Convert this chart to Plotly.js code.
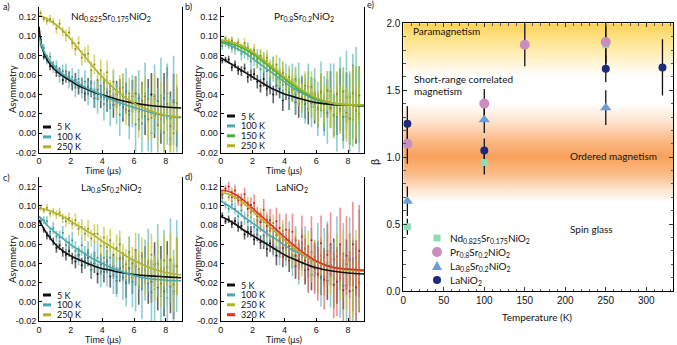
<!DOCTYPE html>
<html>
<head>
<meta charset="utf-8">
<script src="https://cdn.plot.ly/plotly-3.0.1.min.js"></script>
<style>html,body{margin:0;padding:0;background:#fff}</style>
</head>
<body>
<div id="fig" style="width:677px;height:345px"></div>
<script>
// time bins (us), shared by every muSR spectrum
let tData = [0.1,0.3,0.5,0.7,0.9,1.1,1.3,1.5,1.7,1.9,2.1,2.3,2.5,2.7,2.9,3.1,3.3,3.5,3.7,3.9,4.1,4.3,4.5,4.7,4.9,5.1,5.3,5.5,5.7,5.9,6.1,6.3,6.5,6.7,6.9,7.1,7.3,7.5,7.7,7.9,8.1,8.3,8.5,8.7];
let errLow = [0.003,0.003,0.004,0.004,0.004,0.005,0.005,0.005,0.006,0.006,0.006,0.007,0.007,0.008,0.008,0.009,0.009,0.010,0.010,0.011,0.011,0.012,0.012,0.013,0.014,0.014,0.015,0.016,0.016,0.017,0.018,0.019,0.019,0.020,0.021,0.022,0.023,0.024,0.025,0.026,0.027,0.028,0.029,0.030];
let errHigh = [0.004,0.004,0.005,0.005,0.006,0.006,0.007,0.007,0.008,0.008,0.009,0.010,0.010,0.011,0.012,0.012,0.013,0.014,0.015,0.016,0.017,0.018,0.019,0.020,0.021,0.022,0.023,0.024,0.025,0.027,0.028,0.029,0.031,0.032,0.033,0.035,0.036,0.038,0.039,0.041,0.042,0.044,0.046,0.048];

// a) Nd0.825Sr0.175NiO2
let asymA5 = [0.097,0.079,0.077,0.069,0.070,0.063,0.063,0.055,0.058,0.058,0.050,0.055,0.047,0.049,0.041,0.048,0.046,0.036,0.045,0.037,0.045,0.034,0.039,0.029,0.040,0.042,0.027,0.036,0.023,0.038,0.041,0.022,0.034,0.018,0.035,0.040,0.018,0.033,0.014,0.036,0.041,0.015,0.032,0.016];
let asymA100 = [0.092,0.088,0.076,0.079,0.068,0.069,0.059,0.064,0.064,0.054,0.058,0.047,0.056,0.047,0.053,0.041,0.052,0.040,0.035,0.049,0.030,0.042,0.026,0.045,0.030,0.019,0.038,0.043,0.019,0.033,0.009,0.036,0.010,0.041,0.014,0.000,0.035,0.009,0.039,0.000,0.030,-0.006,0.034,0.002];
let asymA250 = [0.124,0.118,0.116,0.118,0.115,0.108,0.113,0.105,0.101,0.104,0.093,0.087,0.093,0.078,0.081,0.082,0.065,0.071,0.055,0.065,0.052,0.063,0.043,0.053,0.033,0.046,0.047,0.024,0.041,0.027,0.041,0.014,0.033,0.038,0.014,0.016,0.038,0.008,0.028,0.001,0.030,0.007,0.000,0.031];
// b) Pr0.8Sr0.2NiO2
let asymB5 = [0.075,0.076,0.076,0.068,0.071,0.065,0.064,0.067,0.058,0.060,0.061,0.053,0.049,0.056,0.046,0.049,0.040,0.049,0.046,0.034,0.045,0.036,0.045,0.032,0.030,0.044,0.030,0.025,0.042,0.027,0.024,0.042,0.021,0.036,0.043,0.019,0.021,0.043,0.017,0.037,0.015,0.043,0.018,0.039];
let asymB100 = [0.090,0.093,0.093,0.088,0.087,0.090,0.082,0.084,0.083,0.074,0.078,0.077,0.066,0.073,0.064,0.058,0.066,0.056,0.063,0.050,0.055,0.042,0.053,0.040,0.052,0.038,0.033,0.048,0.031,0.040,0.025,0.045,0.028,0.021,0.039,0.037,0.017,0.041,0.023,0.044,0.019,0.038,0.043,0.017];
let asymB150 = [0.093,0.096,0.091,0.095,0.090,0.091,0.085,0.089,0.088,0.081,0.083,0.074,0.079,0.072,0.075,0.065,0.070,0.061,0.056,0.063,0.050,0.055,0.044,0.054,0.043,0.035,0.046,0.048,0.032,0.040,0.024,0.041,0.024,0.044,0.026,0.017,0.040,0.023,0.043,0.017,0.037,0.014,0.040,0.020];
let asymB250 = [0.094,0.098,0.094,0.096,0.090,0.093,0.088,0.093,0.086,0.082,0.086,0.076,0.080,0.074,0.078,0.067,0.065,0.071,0.058,0.062,0.051,0.058,0.050,0.056,0.042,0.037,0.049,0.038,0.048,0.030,0.026,0.043,0.030,0.044,0.026,0.019,0.041,0.025,0.043,0.021,0.015,0.041,0.023,0.039];
// c) La0.8Sr0.2NiO2
let asymC5 = [0.084,0.075,0.069,0.068,0.063,0.056,0.059,0.052,0.049,0.053,0.045,0.042,0.049,0.038,0.043,0.046,0.033,0.040,0.029,0.039,0.031,0.042,0.027,0.037,0.022,0.035,0.037,0.020,0.035,0.025,0.037,0.016,0.033,0.038,0.019,0.021,0.039,0.015,0.033,0.011,0.036,0.016,0.011,0.037];
let asymC100 = [0.084,0.085,0.084,0.073,0.077,0.068,0.067,0.072,0.059,0.062,0.064,0.053,0.048,0.059,0.046,0.051,0.038,0.051,0.046,0.031,0.046,0.034,0.046,0.028,0.026,0.045,0.025,0.019,0.043,0.021,0.018,0.042,0.013,0.033,0.043,0.010,0.013,0.043,0.006,0.034,0.004,0.043,0.008,0.037];
let asymC250 = [0.098,0.095,0.098,0.092,0.094,0.091,0.093,0.087,0.084,0.087,0.081,0.085,0.076,0.078,0.071,0.076,0.066,0.071,0.071,0.058,0.067,0.057,0.064,0.049,0.056,0.060,0.045,0.039,0.052,0.040,0.054,0.034,0.048,0.026,0.041,0.049,0.024,0.040,0.019,0.043,0.022,0.044,0.018,0.037];
// d) LaNiO2
let asymD5 = [0.090,0.084,0.086,0.081,0.084,0.078,0.079,0.070,0.073,0.073,0.065,0.070,0.062,0.063,0.055,0.061,0.058,0.048,0.056,0.047,0.054,0.043,0.047,0.037,0.047,0.049,0.033,0.041,0.028,0.043,0.045,0.026,0.037,0.022,0.038,0.044,0.021,0.036,0.017,0.039,0.044,0.018,0.035,0.019];
let asymD100 = [0.108,0.101,0.097,0.101,0.097,0.089,0.095,0.087,0.083,0.088,0.078,0.075,0.083,0.069,0.074,0.077,0.060,0.069,0.053,0.065,0.054,0.066,0.046,0.059,0.039,0.054,0.056,0.033,0.052,0.038,0.054,0.024,0.046,0.052,0.027,0.028,0.053,0.021,0.043,0.014,0.046,0.021,0.015,0.048];
let asymD250 = [0.112,0.116,0.109,0.115,0.108,0.108,0.101,0.105,0.103,0.093,0.096,0.085,0.091,0.083,0.086,0.074,0.082,0.069,0.064,0.074,0.056,0.064,0.049,0.064,0.049,0.040,0.055,0.058,0.036,0.047,0.027,0.048,0.026,0.053,0.029,0.017,0.047,0.025,0.050,0.017,0.043,0.012,0.046,0.020];
let asymD320 = [0.112,0.118,0.120,0.109,0.116,0.106,0.106,0.112,0.097,0.101,0.103,0.089,0.083,0.096,0.079,0.085,0.067,0.084,0.077,0.056,0.075,0.058,0.073,0.048,0.044,0.068,0.043,0.034,0.064,0.035,0.029,0.061,0.023,0.049,0.060,0.018,0.021,0.060,0.012,0.048,0.011,0.060,0.015,0.053];

// fitted relaxation curves
let fitT = [0,0.2,0.5,1,1.5,2,2.5,3,3.5,4,4.5,5,6,7,8,9];
let fitA5 = [0.110,0.088,0.076,0.0655,0.059,0.054,0.049,0.0455,0.042,0.0395,0.037,0.0345,0.031,0.0285,0.027,0.026];
let fitA100 = [0.100,0.089,0.079,0.0685,0.061,0.056,0.051,0.0465,0.043,0.039,0.035,0.032,0.0265,0.0215,0.018,0.016];
let fitA250 = [0.121,0.1205,0.118,0.113,0.106,0.097,0.087,0.077,0.067,0.058,0.050,0.0425,0.031,0.0235,0.0185,0.017];
let fitB5 = [0.078,0.076,0.073,0.068,0.063,0.058,0.053,0.048,0.044,0.0405,0.038,0.0355,0.0315,0.0295,0.029,0.028];
let fitB100 = [0.093,0.093,0.091,0.0875,0.083,0.077,0.071,0.065,0.059,0.053,0.047,0.0425,0.0345,0.031,0.029,0.029];
let fitB150 = [0.094,0.094,0.093,0.0905,0.087,0.082,0.076,0.0695,0.063,0.056,0.050,0.044,0.0355,0.031,0.029,0.029];
let fitB250 = [0.096,0.096,0.095,0.0925,0.089,0.084,0.078,0.0715,0.065,0.058,0.052,0.046,0.0365,0.031,0.0295,0.029];
let fitC5 = [0.085,0.079,0.071,0.0605,0.053,0.048,0.044,0.0405,0.037,0.0345,0.033,0.031,0.0285,0.027,0.026,0.025];
let fitC100 = [0.089,0.086,0.080,0.0725,0.066,0.0595,0.054,0.049,0.044,0.040,0.036,0.033,0.0275,0.024,0.0225,0.022];
let fitC250 = [0.097,0.097,0.096,0.0925,0.089,0.084,0.079,0.074,0.069,0.063,0.058,0.053,0.043,0.0355,0.0305,0.028];
let fitD5 = [0.089,0.0875,0.085,0.080,0.074,0.069,0.064,0.059,0.054,0.049,0.045,0.0415,0.0355,0.032,0.030,0.029];
let fitD100 = [0.105,0.103,0.100,0.0945,0.088,0.082,0.076,0.070,0.065,0.059,0.054,0.050,0.0415,0.0365,0.0335,0.032];
let fitD250 = [0.113,0.113,0.112,0.108,0.102,0.0945,0.087,0.0795,0.072,0.0645,0.057,0.051,0.0415,0.0355,0.033,0.032];
let fitD320 = [0.116,0.116,0.115,0.111,0.105,0.0975,0.090,0.0825,0.075,0.0675,0.060,0.0535,0.0425,0.036,0.034,0.033];

let asymTicks = [-0.02,0,0.02,0.04,0.06,0.08,0.10,0.12];
let asymTickText = ['-0.02','0.00','0.02','0.04','0.06','0.08','0.10','0.12'];
let timeTicks = [0,2,4,6,8];

// e) stretching exponent vs temperature
let tempNd = [5,100,250], betaNd = [0.48,0.96,1.84], errNd = [0.06,0.09,0.14];
let tempPr = [5,100,150,250], betaPr = [1.10,1.40,1.84,1.86], errPr = [0.15,0.11,0.16,0.16];
let tempLa = [5,100,250], betaLa = [0.67,1.28,1.37], errLa = [0.11,0.10,0.13];
let tempLN = [5,100,250,320], betaLN = [1.25,1.05,1.66,1.67], errLN = [0.13,0.09,0.10,0.21];

const W = 677, H = 345;
const fx = p => p / W;
const fy = p => 1 - p / H;

const pal = {
  k:     {bar:'rgba(40,40,40,0.72)',   dot:'#111',    line:'#111'},
  teal:  {bar:'rgba(100,186,190,0.72)',dot:'#3a8e92', line:'#49a9ae'},
  green: {bar:'rgba(105,198,75,0.72)', dot:'#3a8a2a', line:'#43b236'},
  olive: {bar:'rgba(198,196,55,0.72)', dot:'#8c8a1a', line:'#b4b22a'},
  red:   {bar:'rgba(232,85,85,0.65)',  dot:'#b02020', line:'#e0302a'}
};

let panels = [
  {x:'x', y:'y', xd:[39,181.5], yd:[7.3,152.5], tag:'a)', tagPos:[1,6],
   title:'Nd<sub>0.825</sub>Sr<sub>0.175</sub>NiO<sub>2</sub>', titlePos:[111,17],
   leg:[43,127], xt:[103,170], yt:[12,89],
   series:[
     {label:'5 K', y:asymA5, err:errLow, fit:fitA5, c:'k'},
     {label:'100 K', y:asymA100, err:errHigh, fit:fitA100, c:'teal'},
     {label:'250 K', y:asymA250, err:errLow, fit:fitA250, c:'olive'}]},
  {x:'x2', y:'y2', xd:[220.7,364], yd:[7.3,152.5], tag:'b)', tagPos:[183,6],
   title:'Pr<sub>0.8</sub>Sr<sub>0.2</sub>NiO<sub>2</sub>', titlePos:[304,17],
   leg:[227,116], xt:[284,170], yt:[197,89],
   series:[
     {label:'5 K', y:asymB5, err:errLow, fit:fitB5, c:'k'},
     {label:'100 K', y:asymB100, err:errHigh, fit:fitB100, c:'teal'},
     {label:'150 K', y:asymB150, err:errLow, fit:fitB150, c:'green'},
     {label:'250 K', y:asymB250, err:errLow, fit:fitB250, c:'olive'}]},
  {x:'x3', y:'y3', xd:[39,181.5], yd:[177,321], tag:'c)', tagPos:[1,177],
   title:'La<sub>0.8</sub>Sr<sub>0.2</sub>NiO<sub>2</sub>', titlePos:[111,187],
   leg:[43,295], xt:[103,339.5], yt:[12,259],
   series:[
     {label:'5 K', y:asymC5, err:errLow, fit:fitC5, c:'k'},
     {label:'100 K', y:asymC100, err:errHigh, fit:fitC100, c:'teal'},
     {label:'250 K', y:asymC250, err:errLow, fit:fitC250, c:'olive'}]},
  {x:'x4', y:'y4', xd:[220.7,364], yd:[177,321], tag:'d)', tagPos:[183,176],
   title:'LaNiO<sub>2</sub>', titlePos:[292,187],
   leg:[227,285], xt:[284,339.5], yt:[197,259],
   series:[
     {label:'5 K', y:asymD5, err:errLow, fit:fitD5, c:'k'},
     {label:'100 K', y:asymD100, err:errHigh, fit:fitD100, c:'teal'},
     {label:'250 K', y:asymD250, err:errLow, fit:fitD250, c:'olive'},
     {label:'320 K', y:asymD320, err:errHigh, fit:fitD320, c:'red'}]}
];

let betaSeries = [
  {name:'Nd<sub>0.825</sub>Sr<sub>0.175</sub>NiO<sub>2</sub>', x:tempNd, y:betaNd, e:errNd, sym:'square', size:7, color:'#8fdcb5'},
  {name:'Pr<sub>0.8</sub>Sr<sub>0.2</sub>NiO<sub>2</sub>', x:tempPr, y:betaPr, e:errPr, sym:'circle', size:10, color:'#c98dc0'},
  {name:'La<sub>0.8</sub>Sr<sub>0.2</sub>NiO<sub>2</sub>', x:tempLa, y:betaLa, e:errLa, sym:'triangle-up', size:10, color:'#6d9dd4'},
  {name:'LaNiO<sub>2</sub>', x:tempLN, y:betaLN, e:errLN, sym:'circle', size:8, color:'#1c2b7a'}
];

const tickFont = {family:'Liberation Sans, Arial, sans-serif', size:9, color:'#111'};
const txtFont = {family:'Lato, sans-serif', size:10, color:'#111'};

let traces = [];
let layout = {
  width:W, height:H, margin:{l:0,r:0,t:0,b:0},
  paper_bgcolor:'#fff', plot_bgcolor:'rgba(0,0,0,0)',
  showlegend:false, shapes:[], annotations:[]
};

function note(x, y, text, extra) {
  layout.annotations.push(Object.assign({xref:'paper', yref:'paper', x:fx(x), y:fy(y),
    text:text, showarrow:false, font:txtFont, xanchor:'center', yanchor:'middle'}, extra || {}));
}

panels.forEach((p, i) => {
  let n = i === 0 ? '' : String(i + 1);
  layout['xaxis' + n] = {domain:[fx(p.xd[0]), fx(p.xd[1])], range:[0,9], anchor:p.y,
    tickvals:timeTicks, ticks:'inside', ticklen:3, tickcolor:'#000', showline:true, linecolor:'#000',
    linewidth:1, showgrid:false, zeroline:false, tickfont:tickFont};
  layout['yaxis' + n] = {domain:[fy(p.yd[1]), fy(p.yd[0])], range:[-0.02,0.13], anchor:p.x,
    tickvals:asymTicks, ticktext:asymTickText, ticks:'inside', ticklen:3, tickcolor:'#000',
    showline:true, mirror:true, linecolor:'#000', linewidth:1, showgrid:false, zeroline:false, tickfont:tickFont};
  p.series.forEach(s => {
    traces.push({type:'scatter', mode:'markers', x:tData, y:s.y, xaxis:p.x, yaxis:p.y,
      marker:{size:2, color:pal[s.c].dot},
      error_y:{type:'data', array:s.err, visible:true, color:pal[s.c].bar, thickness:1.6, width:0},
      hoverinfo:'skip'});
  });
  p.series.forEach((s, j) => {
    traces.push({type:'scatter', mode:'lines', x:fitT, y:s.fit, xaxis:p.x, yaxis:p.y,
      line:{color:pal[s.c].line, width:1.6, shape:'spline'}, hoverinfo:'skip'});
    let ly = p.leg[1] + j * 9.9;
    layout.shapes.push({type:'line', xref:'paper', yref:'paper', x0:fx(p.leg[0]), x1:fx(p.leg[0] + 8),
      y0:fy(ly), y1:fy(ly), line:{color:pal[s.c].line, width:3}});
    note(p.leg[0] + 12, ly, s.label, {xanchor:'left', font:Object.assign({}, txtFont, {size:9})});
  });
  note(p.titlePos[0], p.titlePos[1], p.title);
  note(p.xt[0], p.xt[1], 'Time (μs)', {font:Object.assign({}, txtFont, {size:9})});
  note(p.yt[0], p.yt[1], 'Asymmetry', {textangle:-90, font:Object.assign({}, txtFont, {size:9.5})});
  note(p.tagPos[0], p.tagPos[1], p.tag, {xanchor:'left', font:Object.assign({}, txtFont, {size:9})});
});

// panel e
layout.xaxis5 = {domain:[fx(403.3), fx(673)], range:[0,333], anchor:'y5', tickvals:[0,50,100,150,200,250,300],
  ticks:'inside', ticklen:4, tickcolor:'#333', minor:{dtick:10, ticks:'inside', ticklen:2.5, tickcolor:'#555'},
  showline:true, mirror:'allticks', linecolor:'#000', linewidth:1, showgrid:false, zeroline:false,
  tickfont:Object.assign({}, tickFont, {size:10})};
layout.yaxis5 = {domain:[fy(291), fy(23.3)], range:[0,2], anchor:'x5', tickvals:[0,0.5,1,1.5,2], tickformat:'.1f',
  ticks:'inside', ticklen:4, tickcolor:'#333', minor:{dtick:0.1, ticks:'inside', ticklen:2.5, tickcolor:'#555'},
  showline:true, mirror:'allticks', linecolor:'#000', linewidth:1, showgrid:false, zeroline:false,
  tickfont:Object.assign({}, tickFont, {size:10})};

// background phase shading
traces.push({type:'scatter', mode:'none', x:[0,333,333,0,0], y:[0,0,2,2,0], xaxis:'x5', yaxis:'y5',
  fill:'toself', hoverinfo:'skip',
  fillgradient:{type:'vertical', start:0, stop:2, colorscale:[
    [0,'#ffffff'],[0.33,'#ffffff'],[0.38,'#fde3cd'],[0.44,'#fbba84'],[0.5,'#f9a15b'],
    [0.56,'#fbb885'],[0.63,'#fde2cb'],[0.7,'#ffffff'],[0.8,'#ffffff'],[0.87,'#fff1c6'],
    [0.94,'#fee38a'],[1,'#fdd258']]}});

betaSeries.forEach(s => {
  traces.push({type:'scatter', mode:'markers', x:s.x, y:s.y, xaxis:'x5', yaxis:'y5',
    marker:{size:1, opacity:0}, hoverinfo:'skip',
    error_y:{type:'data', array:s.e, visible:true, color:'#111', thickness:1.3, width:0}});
});
betaSeries.forEach(s => {
  traces.push({type:'scatter', mode:'markers', x:s.x, y:s.y, xaxis:'x5', yaxis:'y5', hoverinfo:'skip',
    marker:{symbol:s.sym, size:s.size, color:s.color, line:{width:0}}});
});

// legend of panel e
betaSeries.forEach((s, j) => {
  let cx = 437, cy = 238 + j * 14, h = s.size / 2;
  if (s.sym === 'triangle-up') {
    layout.shapes.push({type:'path', xref:'paper', yref:'paper', fillcolor:s.color, line:{width:0},
      path:'M ' + fx(cx - 5) + ',' + fy(cy + 4) + ' L ' + fx(cx + 5) + ',' + fy(cy + 4) + ' L ' + fx(cx) + ',' + fy(cy - 5) + ' Z'});
  } else {
    layout.shapes.push({type:s.sym === 'square' ? 'rect' : 'circle', xref:'paper', yref:'paper', fillcolor:s.color,
      line:{width:0}, x0:fx(cx - h), x1:fx(cx + h), y0:fy(cy + h), y1:fy(cy - h)});
  }
  note(448, cy, s.name, {xanchor:'left'});
});

note(411, 31, 'Paramagnetism', {xanchor:'left'});
note(412, 79, 'Short-range correlated', {xanchor:'left'});
note(412, 91, 'magnetism', {xanchor:'left'});
note(568, 156, 'Ordered magnetism', {xanchor:'left'});
note(568, 229, 'Spin glass', {xanchor:'left'});
note(537, 317, 'Temperature (K)');
note(375, 162, 'β', {textangle:-90, font:Object.assign({}, txtFont, {size:11})});
note(365, 5, 'e)', {xanchor:'left', font:Object.assign({}, txtFont, {size:9})});

Plotly.newPlot('fig', traces, layout, {staticPlot:true});
</script>
</body>
</html>
